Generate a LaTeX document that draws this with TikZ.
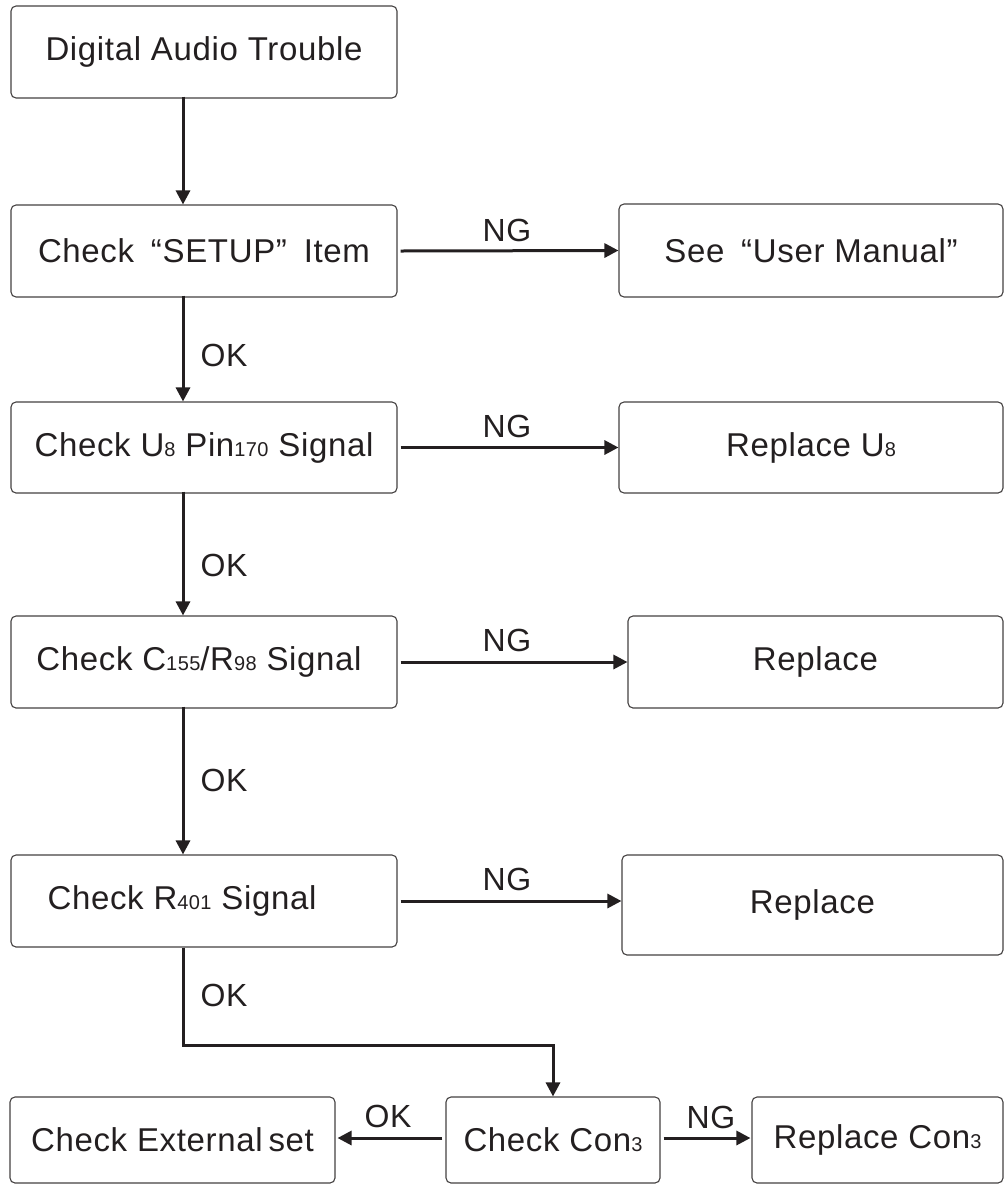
\documentclass[tikz,border=0pt]{standalone}
\usepackage{fontspec}
\setmainfont[LetterSpace=2]{Liberation Sans}
\usetikzlibrary{arrows.meta}
\definecolor{ink}{HTML}{231F20}
\newcommand\sm[1]{{\fontsize{20}{20}\selectfont #1}}
\newcommand\myoq{\hspace{7pt}“}
\newcommand\mycq{”\hspace{7pt}}
\begin{document}
\begin{tikzpicture}[x=1pt,y=-1pt,
  box/.style={draw=ink!85, line width=1.1pt, rounded corners=5pt, text=ink,
    font=\fontsize{33}{38}\selectfont, inner sep=0pt},
  lab/.style={text=ink, font=\fontsize{32}{36}\selectfont, inner sep=0pt},
  arr/.style={draw=ink, line width=3pt, -{Triangle[length=14pt,width=14pt]}}]
\useasboundingbox (0,0) rectangle (1005,1187);
% boxes
\node[box, minimum width=386pt, minimum height=92pt] (b1) at (204,52) {Digital Audio Trouble};
\node[box, minimum width=386pt, minimum height=92pt] (b2) at (204,251) {Check \myoq SETUP\mycq{} Item};
\node[box, minimum width=384pt, minimum height=93pt] (m) at (811,250.5) {See \myoq User Manual”};
\node[box, minimum width=386pt, minimum height=91pt] (b3) at (204,447.5) {Check U\sm{8} Pin\sm{170} Signal};
\node[box, minimum width=384pt, minimum height=91pt] (r1) at (811,447.5) {Replace U\sm{8}};
\node[box, minimum width=386pt, minimum height=92pt] (b4) at (204,662) {Check C\sm{155}/R\sm{98} Signal\hspace*{10pt}};
\node[box, minimum width=375pt, minimum height=92pt] (r2) at (815.5,662) {Replace};
\node[box, minimum width=386pt, minimum height=92pt] (b5) at (204,901) {Check R\sm{401} Signal\hspace*{44pt}};
\node[box, minimum width=381pt, minimum height=100pt] (r3) at (812.5,905) {Replace};
\node[box, minimum width=325pt, minimum height=86pt] (ext) at (172.5,1140) {Check External\hspace{-4pt} set};
\node[box, minimum width=214pt, minimum height=86pt] (c3) at (553,1140) {Check Con\sm{3}};
\node[box, minimum width=251pt, minimum height=86pt] (rc) at (877.5,1140) {Replace Con\sm{3}};
% vertical connectors
\draw[arr] ([xshift=-21pt,yshift=2pt]b1.south) -- ([xshift=-21pt]b2.north);
\draw[arr] ([xshift=-21pt,yshift=2pt]b2.south) -- ([xshift=-21pt]b3.north);
\draw[arr] ([xshift=-21pt,yshift=2pt]b3.south) -- ([xshift=-21pt]b4.north);
\draw[arr] ([xshift=-21pt,yshift=2pt]b4.south) -- ([xshift=-21pt]b5.north);
\coordinate (t1) at (183,1045);
\draw[arr] ([xshift=-21pt]b5.south) -- (t1) -- (t1 -| c3.north) -- (c3.north);
% horizontal connectors
\draw[arr] ([xshift=3pt]b2.east) -- (m.west);
\draw[arr] ([xshift=3pt]b3.east) -- (r1.west);
\draw[arr] ([xshift=3pt]b4.east) -- (r2.west);
\draw[arr] ([xshift=3pt]b5.east) -- (b5.east -| r3.west);
\draw[arr] ([xshift=-3pt,yshift=2pt]c3.west) -- ([xshift=2pt,yshift=2pt]ext.east);
\draw[arr] ([xshift=3pt,yshift=2pt]c3.east) -- ([xshift=-1pt,yshift=2pt]rc.west);
% labels
\node[lab] (ng1) at (507,230) {NG};
\node[lab] (ng2) at (507,426) {NG};
\node[lab] (ng3) at (507,640) {NG};
\node[lab] (ng4) at (507,879) {NG};
\node[lab] (ng5) at (711,1117) {NG};
\node[lab] (ok1) at (224,355) {OK};
\node[lab] (ok2) at (224,565) {OK};
\node[lab] (ok3) at (224,780) {OK};
\node[lab] (ok4) at (224,995) {OK};
\node[lab] (ok5) at (388,1116) {OK};
\end{tikzpicture}
\end{document}
